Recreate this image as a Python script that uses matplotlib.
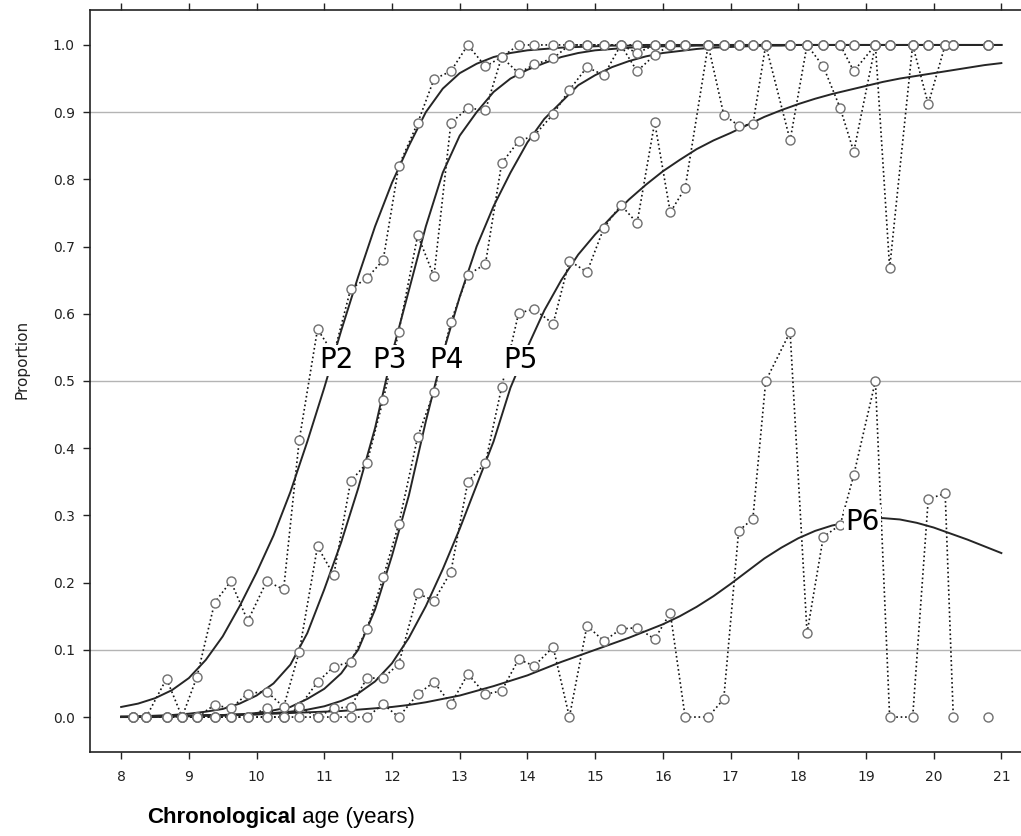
import numpy as np
import matplotlib
matplotlib.use("Agg")
import matplotlib.pyplot as plt

# ---------------- observed proportions (one value per age group) ----------------
ages = [8.17, 8.37, 8.67, 8.90, 9.12, 9.38, 9.62, 9.87, 10.15, 10.40,
        10.63, 10.90, 11.14, 11.39, 11.63, 11.87, 12.10, 12.38, 12.62, 12.87,
        13.12, 13.38, 13.62, 13.87, 14.10, 14.38, 14.62, 14.88, 15.13, 15.38,
        15.62, 15.88, 16.11, 16.33, 16.67, 16.90, 17.12, 17.33, 17.52, 17.88,
        18.13, 18.37, 18.62, 18.82, 19.14, 19.35, 19.69, 19.92, 20.17, 20.29,
        20.81]

obs_p2 = [0, 0, 0.057, 0, 0.06, 0.17, 0.202, 0.143, 0.202, 0.19,
          0.412, 0.577, 0.54, 0.637, 0.653, 0.68, 0.82, 0.884, 0.949, 0.961,
          1.0, 0.968, 0.982, 1.0, 1.0, 1.0, 1.0, 1.0, 1.0, 1.0,
          1.0, 1.0, 1.0, 1.0, 1.0, 1.0, 1.0, 1.0, 1.0, 1.0,
          1.0, 1.0, 1.0, 1.0, 1.0, 1.0, 1.0, 1.0, 1.0, 1.0,
          1.0]
obs_p3 = [0, 0, 0, 0, 0, 0.018, 0.013, 0.035, 0.038, 0.015,
          0.097, 0.254, 0.211, 0.351, 0.378, 0.472, 0.573, 0.717, 0.656, 0.884,
          0.906, 0.903, 0.982, 0.958, 0.971, 0.98, 1.0, 1.0, 1.0, 1.0,
          0.988, 1.0, 1.0, 1.0, 1.0, 1.0, 1.0, 1.0, 1.0, 1.0,
          1.0, 1.0, 1.0, 1.0, 1.0, 1.0, 1.0, 1.0, 1.0, 1.0,
          1.0]
obs_p4 = [0, 0, 0, 0, 0, 0, 0, 0, 0.013, 0,
          0.015, 0.052, 0.075, 0.082, 0.131, 0.208, 0.287, 0.417, 0.484, 0.588,
          0.658, 0.674, 0.824, 0.857, 0.865, 0.897, 0.933, 0.967, 0.955, 1.0,
          0.961, 0.985, 1.0, 1.0, 1.0, 1.0, 1.0, 1.0, 1.0, 1.0,
          1.0, 1.0, 1.0, 0.961, 1.0, 1.0, 1.0, 1.0, 1.0, 1.0,
          1.0]
obs_p5 = [0, 0, 0, 0, 0, 0, 0, 0, 0, 0,
          0.015, 0, 0.013, 0.015, 0.058, 0.058, 0.079, 0.184, 0.173, 0.216,
          0.35, 0.378, 0.491, 0.601, 0.607, 0.585, 0.679, 0.662, 0.728, 0.762,
          0.735, 0.885, 0.751, 0.787, 1.0, 0.896, 0.88, 0.882, 1.0, 0.858,
          1.0, 0.968, 0.906, 0.841, 1.0, 0.668, 1.0, 0.912, 1.0, 1.0,
          1.0]
obs_p6 = [0, 0, 0, 0, 0, 0, 0, 0, 0, 0,
          0, 0, 0, 0, 0, 0.019, 0, 0.034, 0.052, 0.019,
          0.064, 0.034, 0.039, 0.086, 0.076, 0.104, 0, 0.136, 0.113, 0.131,
          0.133, 0.116, 0.155, 0, 0, 0.027, 0.277, 0.295, 0.5, 0.573,
          0.125, 0.268, 0.286, 0.36, 0.5, 0, 0, 0.324, 0.333, 0,
          0]

# ---------------- fitted curves (every 0.25 year) ----------------
fit_ages = [8.0, 8.25, 8.5, 8.75, 9.0, 9.25, 9.5, 9.75, 10.0, 10.25,
            10.5, 10.75, 11.0, 11.25, 11.5, 11.75, 12.0, 12.25, 12.5, 12.75,
            13.0, 13.25, 13.5, 13.75, 14.0, 14.25, 14.5, 14.75, 15.0, 15.25,
            15.5, 15.75, 16.0, 16.25, 16.5, 16.75, 17.0, 17.25, 17.5, 17.75,
            18.0, 18.25, 18.5, 18.75, 19.0, 19.25, 19.5, 19.75, 20.0, 20.25,
            20.5, 20.75, 21.0]

fit_p2 = [0.015, 0.02, 0.028, 0.04, 0.058, 0.085, 0.12, 0.165, 0.215, 0.27,
          0.335, 0.41, 0.49, 0.575, 0.655, 0.73, 0.795, 0.85, 0.9, 0.935,
          0.958, 0.972, 0.982, 0.988, 0.992, 0.994, 0.996, 0.997, 0.998, 0.999,
          0.999, 1.0, 1.0, 1.0, 1.0, 1.0, 1.0, 1.0, 1.0, 1.0,
          1.0, 1.0, 1.0, 1.0, 1.0, 1.0, 1.0, 1.0, 1.0, 1.0,
          1.0, 1.0, 1.0]
fit_p3 = [0.0, 0.001, 0.002, 0.003, 0.005, 0.008, 0.012, 0.02, 0.032, 0.05,
          0.078, 0.125, 0.19, 0.26, 0.34, 0.43, 0.54, 0.635, 0.73, 0.81,
          0.865, 0.9, 0.93, 0.95, 0.963, 0.973, 0.982, 0.988, 0.992, 0.994,
          0.996, 0.997, 0.998, 0.998, 0.999, 0.999, 1.0, 1.0, 1.0, 1.0,
          1.0, 1.0, 1.0, 1.0, 1.0, 1.0, 1.0, 1.0, 1.0, 1.0,
          1.0, 1.0, 1.0]
fit_p4 = [0.0, 0.0, 0.001, 0.001, 0.002, 0.002, 0.003, 0.004, 0.006, 0.01,
          0.015, 0.027, 0.042, 0.065, 0.1, 0.16, 0.24, 0.33, 0.44, 0.54,
          0.625, 0.7, 0.76, 0.81, 0.855, 0.89, 0.915, 0.94, 0.955, 0.967,
          0.976, 0.983, 0.988, 0.991, 0.994, 0.996, 0.997, 0.998, 0.999, 0.999,
          1.0, 1.0, 1.0, 1.0, 1.0, 1.0, 1.0, 1.0, 1.0, 1.0,
          1.0, 1.0, 1.0]
fit_p5 = [0.0, 0.0, 0.0, 0.001, 0.001, 0.002, 0.002, 0.003, 0.004, 0.006,
          0.008, 0.011, 0.016, 0.024, 0.035, 0.053, 0.08, 0.118, 0.165, 0.22,
          0.28, 0.345, 0.41, 0.49, 0.55, 0.605, 0.65, 0.688, 0.718, 0.745,
          0.77, 0.792, 0.812, 0.829, 0.845, 0.858, 0.869, 0.881, 0.893, 0.903,
          0.912, 0.92, 0.927, 0.933, 0.939, 0.945, 0.95, 0.954, 0.958, 0.962,
          0.966, 0.97, 0.973]
fit_p6 = [0.001, 0.001, 0.001, 0.002, 0.002, 0.003, 0.003, 0.004, 0.004, 0.005,
          0.006, 0.007, 0.008, 0.009, 0.011, 0.013, 0.015, 0.018, 0.022, 0.027,
          0.032, 0.039, 0.046, 0.054, 0.062, 0.072, 0.082, 0.091, 0.1, 0.109,
          0.118, 0.128, 0.138, 0.15, 0.164, 0.18, 0.198, 0.217, 0.236, 0.252,
          0.266, 0.277, 0.285, 0.29, 0.294, 0.296, 0.294, 0.289, 0.282, 0.273,
          0.264, 0.254, 0.244]

names = ["P2", "P3", "P4", "P5", "P6"]
observed = [obs_p2, obs_p3, obs_p4, obs_p5, obs_p6]
fitted = [fit_p2, fit_p3, fit_p4, fit_p5, fit_p6]
label_pos = [(11.18, 0.531), (11.97, 0.531), (12.80, 0.531), (13.89, 0.531), (18.95, 0.29)]

fig = plt.figure(figsize=(10.21, 8.36), dpi=100)
ax = fig.add_axes([90 / 1021, 84 / 836, 931 / 1021, 742 / 836])

for yg in [0.1, 0.5, 0.9]:
    ax.axhline(yg, color="#b4b4b4", lw=1.0, zorder=0)

x_obs = np.array(ages)
for name, obs, fit in zip(names, observed, fitted):
    y = np.array(obs, dtype=float)
    yl = y.copy()
    if name == "P6":
        yl[-1] = np.nan  # last group not joined
    ax.plot(x_obs, yl, ls=":", color="#111111", lw=1.2, zorder=2)
    ax.plot(fit_ages, fit, "-", color="#262626", lw=1.4, zorder=3)
    ax.plot(x_obs, y, "o", ms=6.5, mfc="white", mec="#707070", mew=1.0, zorder=4)

for name, (lx, ly) in zip(names, label_pos):
    ax.text(lx, ly, name, fontsize=20, ha="center", va="center", zorder=6,
            bbox=dict(fc="white", ec="none", pad=1.0))

ax.set_xlim(7.54, 21.29)
ax.set_ylim(-0.052, 1.052)
ax.set_xticks(range(8, 22))
ax.set_yticks(np.arange(0, 1.01, 0.1))
ax.set_yticklabels(["%.1f" % v for v in np.arange(0, 1.01, 0.1)])
ax.tick_params(axis="both", direction="out", length=5, width=1, labelsize=10, colors="#222222")
ax.tick_params(axis="x", top=True, labeltop=False, pad=8)
ax.tick_params(axis="y", pad=6)
ax.spines["right"].set_visible(False)
for s in ["left", "bottom", "top"]:
    ax.spines[s].set_linewidth(1.2)
    ax.spines[s].set_color("#222222")

fig.text(22 / 1021, 0.57, "Proportion", rotation=90, ha="center", va="center",
         fontsize=11, color="#222222")

# x label: bold first word, then regular text
t1 = fig.text(147 / 1021, 18 / 836, "Chronological", fontsize=16, fontweight="bold",
              family="Liberation Sans", ha="left", va="center")
fig.canvas.draw()
bb = t1.get_window_extent(renderer=fig.canvas.get_renderer())
fig.text(bb.x1 / fig.bbox.width, 18 / 836, " age (years)", fontsize=16,
         family="Liberation Sans", ha="left", va="center")

fig.savefig("out.png", dpi=100)
